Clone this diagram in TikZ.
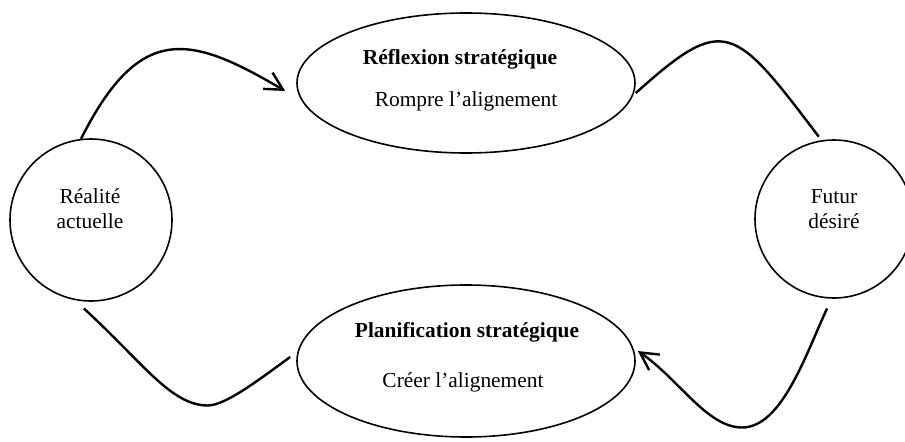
\documentclass[tikz,border=0pt]{standalone}
\usepackage{fontspec}
\setmainfont{Liberation Serif}
\usetikzlibrary{shapes.geometric,arrows.meta}

\begin{document}
\begin{tikzpicture}[x=0.5pt,y=0.5pt,
		etat/.style={circle, draw, line width=0.8pt, inner sep=0pt},
		phase/.style={ellipse, draw, line width=0.8pt, minimum width=169pt, inner sep=0pt},
		texte/.style={align=center, font=\fontsize{10.7}{12.5}\selectfont},
		lien/.style={line width=1.2pt},
		fleche/.style={lien, -{Straight Barb[length=8.8pt,width=9.4pt]}}]
	
	\useasboundingbox (0,0) rectangle (905,441);
	
	\node[etat, minimum size=81pt] (reel) at (91,221) {};
	\node[etat, minimum size=79pt] (futur) at (834,222) {};
	\node[phase, minimum height=70pt] (reflex) at (466,358) {};
	\node[phase, minimum height=76pt] (planif) at (466,80) {};
	
	\node[texte] (reelTexte) at (90,232) {Réalité\\actuelle};
	\node[texte] (futurTexte) at (834,232) {Futur\\désiré};
	\node[texte] (reflexTitre) at (460,382) {\textbf{Réflexion stratégique}};
	\node[texte] (reflexSous) at (466,340) {Rompre l'alignement};
	\node[texte] (planifTitre) at (467,109) {\textbf{Planification stratégique}};
	\node[texte] (planifSous) at (463,59) {Créer l'alignement};
	
	\draw[fleche] (reel.97) .. controls +(59,117) and +(-95,56) .. ([shift={(-11,-8)}]reflex.west);
	\draw[lien] ([shift={(0,-10)}]reflex.east) .. controls +(89,80) and +(-85,112) .. ([shift={(0,4)}]futur.101);
	\draw[fleche] ([shift={(0,-10)}]futur.265) .. controls +(-21,-45) and +(40,0) .. ++(-85,-119)
		.. controls +(-35,0) and +(41,-28) .. ([shift={(2,10)}]planif.east);
	\draw[lien] ([shift={(0,-7)}]reel.265) .. controls +(59,-54) and +(-37,0) .. ++(124,-97)
		.. controls +(18,0) and +(-29,-21) .. ([shift={(-6,4)}]planif.west);
	
\end{tikzpicture}
\end{document}
